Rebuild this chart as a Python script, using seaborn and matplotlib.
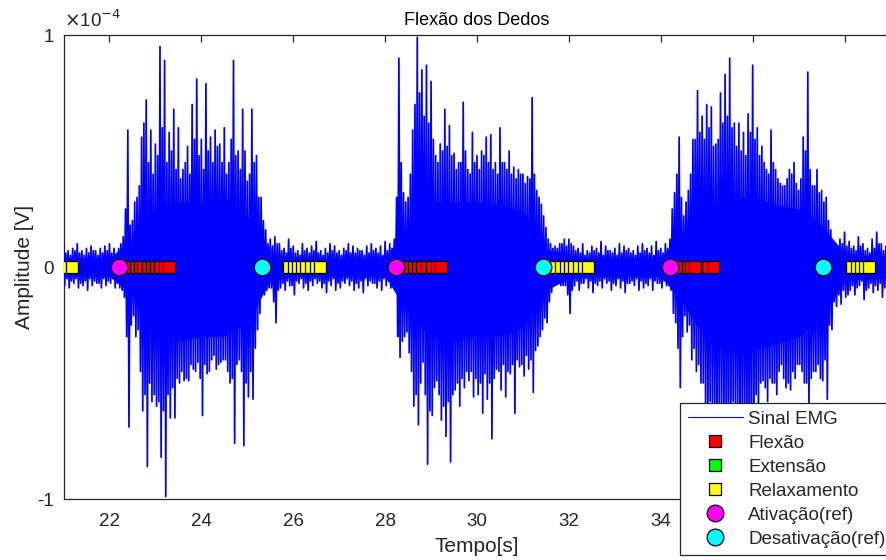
import numpy as np
import pandas as pd
import matplotlib
matplotlib.use("Agg")
import matplotlib.pyplot as plt
from matplotlib.lines import Line2D
from matplotlib.ticker import FixedFormatter
import seaborn as sns

sns.set_theme(style="white")
plt.rcParams['font.family'] = ['Liberation Sans', 'DejaVu Sans']
plt.rcParams['axes.unicode_minus'] = False
plt.rcParams['path.simplify'] = False

# ---------------- data (values in units of 1e-4 V) ----------------
t_start, t_step = 21.0, 0.1   # sample grid of the envelope readings
# main positive / negative peaks at t
upper_peaks = [
    0.09, 0.07, 0.08, 0.10, 0.07, 0.08, 0.09, 0.07, 0.08, 0.09, 0.10, 0.08,
    0.08, 0.13, 0.59, 0.20, 0.30, 0.56, 0.72, 0.59, 0.53, 0.95, 0.89, 0.58, 0.68, 0.60,
    0.42, 0.52, 0.70, 0.81, 0.55, 0.79, 0.56, 0.59, 0.53, 0.60, 0.45, 0.89, 0.50, 0.68,
    0.37, 0.68, 0.48, 0.30, 0.16, 0.12, 0.13,
    0.10, 0.08, 0.12, 0.09, 0.07, 0.10, 0.08, 0.09, 0.11, 0.07, 0.08, 0.10, 0.09, 0.07,
    0.08, 0.10, 0.09, 0.08, 0.07, 0.09, 0.10, 0.08, 0.09, 0.11, 0.10,
    0.12, 0.90, 0.32, 0.30, 0.59, 0.99, 0.85, 0.87, 0.80, 0.48, 0.53, 0.68, 0.61, 0.49,
    0.45, 0.71, 0.42, 0.58, 0.48, 0.50, 0.56, 0.57, 0.45, 0.60, 0.45, 0.50, 0.43, 0.42,
    0.40, 0.39, 0.73, 0.33, 0.27, 0.17, 0.10, 0.09, 0.10, 0.12, 0.12,
    0.09, 0.08, 0.10, 0.07, 0.09, 0.08, 0.11, 0.09, 0.07, 0.08, 0.10, 0.09, 0.08, 0.07,
    0.09, 0.10, 0.08, 0.09, 0.11, 0.08, 0.10,
    0.12, 0.32, 0.56, 0.22, 0.33, 0.55, 0.76, 0.65, 0.70, 0.69, 0.53, 0.75, 0.83, 0.90,
    0.62, 0.62, 0.58, 0.66, 0.87, 0.60, 0.52, 0.42, 0.59, 0.42, 0.36, 0.35, 0.42, 0.45,
    0.33, 0.56, 0.84, 0.35, 0.42, 0.33, 0.30, 0.16, 0.10, 0.12, 0.15,
    0.11, 0.09, 0.13, 0.10, 0.08, 0.12, 0.15, 0.10, 0.09, 0.11,
]
lower_peaks = [
    -0.08, -0.09, -0.07, -0.09, -0.08, -0.10, -0.08, -0.07, -0.09, -0.08, -0.07, -0.09,
    -0.09, -0.13, -0.69, -0.21, -0.27, -0.62, -0.86, -0.58, -0.60, -0.82, -0.99, -0.65,
    -0.65, -0.50, -0.49, -0.49, -0.44, -0.41, -0.64, -0.46, -0.40, -0.44, -0.41, -0.40,
    -0.50, -0.76, -0.40, -0.77, -0.56, -0.57, -0.27, -0.10, -0.10, -0.09, -0.24,
    -0.09, -0.10, -0.08, -0.12, -0.07, -0.09, -0.10, -0.08, -0.07, -0.09, -0.11, -0.08,
    -0.10, -0.09, -0.07, -0.08, -0.10, -0.09, -0.11, -0.08, -0.07, -0.09, -0.10, -0.08, -0.09,
    -0.10, -0.39, -0.30, -0.37, -0.60, -0.68, -0.41, -0.85, -0.64, -0.49, -0.66, -0.73,
    -0.84, -0.53, -0.60, -0.52, -0.49, -0.56, -0.55, -0.63, -0.57, -0.74, -0.44, -0.53,
    -0.56, -0.46, -0.63, -0.43, -0.47, -0.44, -0.54, -0.34, -0.27, -0.24, -0.11, -0.07,
    -0.08, -0.08, -0.20,
    -0.08, -0.10, -0.07, -0.09, -0.11, -0.08, -0.09, -0.07, -0.10, -0.08, -0.09, -0.11,
    -0.07, -0.08, -0.10, -0.09, -0.08, -0.10, -0.07, -0.09, -0.08,
    -0.10, -0.24, -0.52, -0.21, -0.25, -0.35, -0.42, -0.50, -0.70, -0.62, -0.75, -0.68,
    -0.80, -0.72, -0.66, -0.78, -0.70, -0.85, -0.74, -0.62, -0.49, -0.58, -0.50, -0.55,
    -0.42, -0.52, -0.53, -0.48, -0.42, -0.50, -0.62, -0.45, -0.42, -0.49, -0.57, -0.27,
    -0.17, -0.16, -0.13,
    -0.10, -0.12, -0.08, -0.14, -0.09, -0.11, -0.10, -0.13, -0.08, -0.10,
]
# secondary (denser, smaller) positive / negative peaks at t + 0.05
inner_upper = [
    0.06, 0.05, 0.07, 0.06, 0.05, 0.06, 0.07, 0.05, 0.06, 0.07, 0.06, 0.05,
    0.10, 0.25, 0.18, 0.28, 0.35, 0.62, 0.45, 0.40, 0.48, 0.60, 0.45, 0.50, 0.42, 0.38,
    0.45, 0.40, 0.55, 0.48, 0.42, 0.50, 0.45, 0.52, 0.45, 0.40, 0.55, 0.48, 0.42, 0.50,
    0.40, 0.45, 0.30, 0.20, 0.10, 0.09, 0.10,
    0.07, 0.06, 0.08, 0.06, 0.05, 0.07, 0.06, 0.07, 0.06, 0.05, 0.06, 0.07, 0.06, 0.05,
    0.07, 0.06, 0.06, 0.07, 0.05, 0.06, 0.07, 0.06, 0.05, 0.07, 0.08,
    0.30, 0.45, 0.28, 0.40, 0.70, 0.75, 0.65, 0.62, 0.55, 0.45, 0.50, 0.52, 0.48, 0.42,
    0.45, 0.50, 0.40, 0.45, 0.42, 0.48, 0.45, 0.42, 0.40, 0.45, 0.42, 0.40, 0.38, 0.40,
    0.36, 0.38, 0.40, 0.30, 0.22, 0.12, 0.08, 0.08, 0.10, 0.09, 0.10,
    0.07, 0.06, 0.05, 0.06, 0.07, 0.06, 0.05, 0.07, 0.06, 0.05, 0.06, 0.07, 0.06, 0.05,
    0.06, 0.07, 0.06, 0.05, 0.07, 0.06, 0.08,
    0.25, 0.40, 0.30, 0.28, 0.40, 0.55, 0.58, 0.55, 0.60, 0.52, 0.55, 0.62, 0.65, 0.60,
    0.52, 0.50, 0.48, 0.58, 0.55, 0.48, 0.45, 0.40, 0.45, 0.38, 0.35, 0.38, 0.40, 0.36,
    0.38, 0.50, 0.42, 0.35, 0.32, 0.28, 0.20, 0.10, 0.09, 0.10, 0.09,
    0.08, 0.07, 0.09, 0.07, 0.06, 0.08, 0.10, 0.07, 0.06, 0.08,
]
inner_lower = [
    -0.05, -0.06, -0.05, -0.07, -0.06, -0.05, -0.06, -0.07, -0.05, -0.06, -0.05, -0.07,
    -0.10, -0.30, -0.25, -0.30, -0.45, -0.55, -0.50, -0.55, -0.58, -0.62, -0.55, -0.52,
    -0.48, -0.45, -0.48, -0.42, -0.45, -0.48, -0.42, -0.45, -0.38, -0.42, -0.40, -0.45,
    -0.48, -0.42, -0.45, -0.50, -0.45, -0.35, -0.20, -0.12, -0.09, -0.15, -0.10,
    -0.07, -0.06, -0.08, -0.06, -0.05, -0.07, -0.06, -0.05, -0.06, -0.07, -0.06, -0.05,
    -0.07, -0.06, -0.05, -0.06, -0.07, -0.06, -0.05, -0.06, -0.07, -0.06, -0.05, -0.06, -0.07,
    -0.30, -0.32, -0.28, -0.45, -0.55, -0.50, -0.55, -0.62, -0.52, -0.55, -0.60, -0.58,
    -0.55, -0.50, -0.48, -0.45, -0.45, -0.48, -0.50, -0.46, -0.50, -0.48, -0.45, -0.42,
    -0.45, -0.42, -0.40, -0.42, -0.38, -0.40, -0.36, -0.30, -0.22, -0.15, -0.08, -0.07,
    -0.08, -0.12, -0.10,
    -0.06, -0.07, -0.05, -0.06, -0.07, -0.06, -0.05, -0.06, -0.07, -0.05, -0.06, -0.07,
    -0.06, -0.05, -0.06, -0.07, -0.05, -0.06, -0.07, -0.06, -0.08,
    -0.20, -0.35, -0.30, -0.28, -0.40, -0.45, -0.50, -0.60, -0.58, -0.62, -0.60, -0.65,
    -0.62, -0.58, -0.62, -0.60, -0.65, -0.60, -0.55, -0.50, -0.52, -0.48, -0.50, -0.45,
    -0.48, -0.50, -0.45, -0.42, -0.45, -0.50, -0.48, -0.45, -0.48, -0.40, -0.25, -0.15,
    -0.12, -0.10, -0.12,
    -0.08, -0.09, -0.06, -0.10, -0.07, -0.08, -0.07, -0.09, -0.06, -0.07,
]
core_times = [21.0, 21.5, 22.0, 22.5, 23.0, 23.5, 24.0, 24.5, 25.0, 25.5, 26.0, 26.5,
              27.0, 27.5, 28.0, 28.5, 29.0, 29.5, 30.0, 30.5, 31.0, 31.5, 32.0, 32.5,
              33.0, 33.5, 34.0, 34.5, 35.0, 35.5, 36.0, 36.5, 37.0, 37.5, 38.0, 38.5, 39.0]
core_upper = [0.04, 0.04, 0.04, 0.12, 0.25, 0.28, 0.28, 0.30, 0.22, 0.06, 0.04, 0.04,
              0.04, 0.04, 0.04, 0.18, 0.28, 0.28, 0.28, 0.27, 0.24, 0.08, 0.05, 0.04,
              0.04, 0.04, 0.04, 0.15, 0.26, 0.30, 0.30, 0.27, 0.25, 0.18, 0.06, 0.05, 0.05]
core_lower = [-0.04, -0.04, -0.04, -0.12, -0.28, -0.32, -0.30, -0.30, -0.24, -0.06, -0.04, -0.04,
              -0.04, -0.04, -0.04, -0.20, -0.30, -0.32, -0.30, -0.30, -0.26, -0.10, -0.05, -0.04,
              -0.04, -0.04, -0.04, -0.16, -0.32, -0.36, -0.36, -0.33, -0.30, -0.22, -0.06, -0.05, -0.05]

flexao_t = [22.47, 22.57, 22.66, 22.74, 22.83, 22.92, 23.01, 23.11, 23.20, 23.30,
            28.51, 28.62, 28.71, 28.81, 28.91, 29.02, 29.12, 29.22,
            34.49, 34.60, 34.66, 34.74, 35.02, 35.13]
extensao_t = []
relax_t = [21.08, 21.18,
           25.91, 26.01, 26.10, 26.20, 26.28, 26.39, 26.49, 26.59,
           31.73, 31.83, 31.93, 32.02, 32.12, 32.22, 32.33, 32.41,
           38.16, 38.26, 38.35, 38.44, 38.54]
ativ_t = [22.20, 28.24, 34.21]
desativ_t = [25.32, 31.43, 37.52]

legend_labels = ["Sinal EMG", "Flexão", "Extensão", "Relaxamento", "Ativação(ref)", "Desativação(ref)"]
ytick_labels = ["-1", "0", "1"]
SCALE = 1e-4

# ---------------- build signal table (interleave the readings in time) ----------------
n = len(upper_peaks)
t_grid = t_start + t_step * np.arange(n)
tz = np.empty(4 * n); yz = np.empty(4 * n)
q = t_step / 4
tz[0::4] = t_grid;         yz[0::4] = np.array(upper_peaks) * SCALE
tz[1::4] = t_grid + q;     yz[1::4] = np.array(lower_peaks) * SCALE
tz[2::4] = t_grid + 2 * q; yz[2::4] = np.array(inner_upper) * SCALE
tz[3::4] = t_grid + 3 * q; yz[3::4] = np.array(inner_lower) * SCALE
sig = pd.DataFrame({"t": tz, "v": yz})

# ---------------- figure ----------------
W, H = 887, 560
fig = plt.figure(figsize=(W / 100, H / 100), dpi=100)
fig.patch.set_facecolor("white")
ax = fig.add_axes([63.5 / W, 61 / H, (890.5 - 63.5) / W, 464 / H])
ax.set_facecolor("white")

blue = (0, 0, 1)
ax.fill_between(core_times, np.array(core_lower) * SCALE, np.array(core_upper) * SCALE,
                color=blue, lw=0, zorder=2)
sns.lineplot(data=sig, x="t", y="v", color=blue, lw=1.25, estimator=None,
             sort=False, ax=ax, zorder=3)

sq = 9.0
circ = 12.0
def pts(ts, color, marker, size):
    if len(ts) == 0:
        return
    d = pd.DataFrame({"t": ts, "v": np.zeros(len(ts))})
    sns.scatterplot(data=d, x="t", y="v", marker=marker, s=size ** 2, color=color,
                    edgecolor="black", linewidth=0.9, ax=ax, zorder=5, legend=False)

pts(flexao_t, (1, 0, 0), "s", sq)
pts(extensao_t, (0, 1, 0), "s", sq)
pts(relax_t, (1, 1, 0), "s", sq)
pts(ativ_t, (1, 0, 1), "o", circ)
pts(desativ_t, (0, 1, 1), "o", circ)

ax.set_xlim(21, 39)
ax.set_ylim(-1e-4, 1e-4)
ax.set_xticks(np.arange(22, 39, 2))
ax.set_yticks([-1e-4, 0, 1e-4])
ax.yaxis.set_major_formatter(FixedFormatter(ytick_labels))

fs = 13.5
spine_c = "#262626"
for s in ax.spines.values():
    s.set_color(spine_c); s.set_linewidth(0.9); s.set_visible(True)
ax.tick_params(axis="both", direction="in", length=5, width=0.9, color=spine_c,
               labelcolor=spine_c, labelsize=fs, top=True, right=True)
ax.tick_params(axis="x", pad=10)
ax.tick_params(axis="y", pad=7)
ax.text(0.0, 1.008, r"$\times$10$^{-4}$", transform=ax.transAxes, ha="left", va="bottom",
        fontsize=fs, color=spine_c)

ax.set_xlabel("Tempo[s]", fontsize=15, color=spine_c, labelpad=5)
ax.set_ylabel("Amplitude [V]", fontsize=15, color=spine_c, labelpad=2)
ax.set_title("Flexão dos Dedos", fontsize=13, color="black", pad=7)

handles = [
    Line2D([], [], color=blue, lw=0.8),
    Line2D([], [], ls="none", marker="s", ms=sq, mfc=(1, 0, 0), mec="black", mew=0.9),
    Line2D([], [], ls="none", marker="s", ms=sq, mfc=(0, 1, 0), mec="black", mew=0.9),
    Line2D([], [], ls="none", marker="s", ms=sq, mfc=(1, 1, 0), mec="black", mew=0.9),
    Line2D([], [], ls="none", marker="o", ms=circ, mfc=(1, 0, 1), mec="black", mew=0.9),
    Line2D([], [], ls="none", marker="o", ms=circ, mfc=(0, 1, 1), mec="black", mew=0.9),
]
leg = ax.legend(handles, legend_labels, loc="upper left",
                bbox_to_anchor=(680 / W, 0.0, 230 / W, (H - 403) / H),
                bbox_transform=fig.transFigure, mode="expand",
                borderaxespad=0, fontsize=fs, frameon=True, fancybox=False,
                edgecolor=spine_c, framealpha=1, handlelength=2.95, handletextpad=0.28,
                labelspacing=0.37, borderpad=0.4)
leg.get_frame().set_linewidth(0.9)
for txt in leg.get_texts():
    txt.set_color(spine_c)
leg.set_zorder(10)

fig.savefig("out.png", dpi=100, facecolor="white")
